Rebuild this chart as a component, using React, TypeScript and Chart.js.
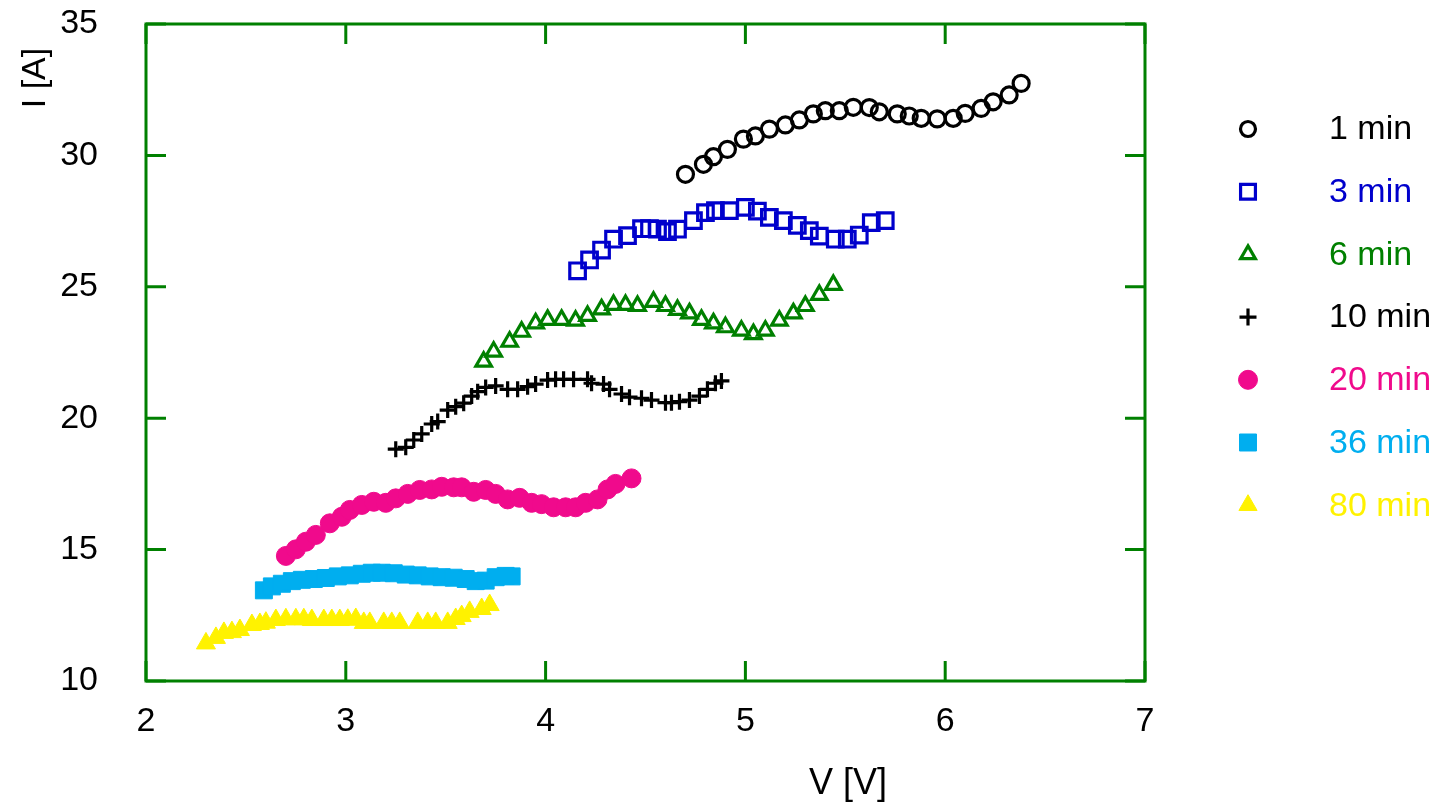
import React, { useEffect, useRef } from 'react';
import { Chart, registerables } from 'chart.js';
import { drawPoint } from 'chart.js/helpers';

Chart.register(...registerables);

const seriesLabels = ['1 min', '3 min', '6 min', '10 min', '20 min', '36 min', '80 min'];

const v1 = [4.70, 4.79, 4.84, 4.91, 4.99, 5.05, 5.12, 5.20, 5.27, 5.34, 5.40, 5.47, 5.54, 5.62, 5.67, 5.76, 5.82, 5.88, 5.96, 6.04, 6.10, 6.18, 6.24, 6.32, 6.38];
const i1 = [29.28, 29.66, 29.95, 30.23, 30.62, 30.74, 31.00, 31.16, 31.35, 31.58, 31.70, 31.70, 31.83, 31.82, 31.66, 31.58, 31.50, 31.41, 31.39, 31.41, 31.60, 31.79, 32.04, 32.30, 32.74];

const v3 = [4.16, 4.22, 4.28, 4.34, 4.41, 4.48, 4.52, 4.56, 4.61, 4.66, 4.74, 4.80, 4.85, 4.92, 5.00, 5.06, 5.12, 5.19, 5.26, 5.32, 5.37, 5.45, 5.51, 5.57, 5.63, 5.70];
const i3 = [25.61, 26.02, 26.40, 26.81, 26.95, 27.21, 27.21, 27.19, 27.10, 27.19, 27.52, 27.82, 27.90, 27.90, 28.02, 27.88, 27.64, 27.52, 27.34, 27.14, 26.93, 26.81, 26.81, 26.97, 27.44, 27.52];

const v6 = [3.69, 3.74, 3.82, 3.88, 3.95, 4.01, 4.08, 4.15, 4.21, 4.28, 4.34, 4.40, 4.46, 4.54, 4.60, 4.66, 4.72, 4.78, 4.84, 4.90, 4.98, 5.04, 5.10, 5.17, 5.24, 5.30, 5.37, 5.44];
const i6 = [22.15, 22.53, 22.91, 23.29, 23.61, 23.74, 23.74, 23.71, 23.89, 24.14, 24.31, 24.31, 24.27, 24.43, 24.27, 24.12, 23.99, 23.74, 23.61, 23.46, 23.33, 23.20, 23.33, 23.71, 23.99, 24.27, 24.69, 25.07];

const v10 = [3.25, 3.30, 3.34, 3.38, 3.43, 3.46, 3.51, 3.55, 3.59, 3.63, 3.66, 3.70, 3.75, 3.81, 3.86, 3.91, 3.95, 4.01, 4.05, 4.09, 4.14, 4.21, 4.23, 4.29, 4.32, 4.38, 4.42, 4.48, 4.53, 4.60, 4.63, 4.67, 4.72, 4.77, 4.81, 4.85, 4.88];
const i10 = [18.82, 18.89, 19.17, 19.40, 19.78, 19.87, 20.31, 20.44, 20.57, 20.84, 21.01, 21.17, 21.23, 21.10, 21.10, 21.20, 21.30, 21.45, 21.48, 21.48, 21.48, 21.48, 21.33, 21.30, 21.10, 20.92, 20.80, 20.76, 20.69, 20.59, 20.59, 20.63, 20.69, 20.84, 21.10, 21.33, 21.42];

const v20 = [2.70, 2.75, 2.80, 2.85, 2.92, 2.98, 3.02, 3.08, 3.14, 3.20, 3.25, 3.31, 3.37, 3.43, 3.48, 3.54, 3.58, 3.64, 3.70, 3.75, 3.81, 3.87, 3.93, 3.98, 4.04, 4.10, 4.15, 4.20, 4.26, 4.31, 4.35, 4.43];
const i20 = [14.76, 15.01, 15.30, 15.56, 16.00, 16.25, 16.51, 16.70, 16.82, 16.78, 16.95, 17.12, 17.27, 17.29, 17.39, 17.37, 17.37, 17.20, 17.27, 17.12, 16.91, 16.97, 16.78, 16.73, 16.61, 16.61, 16.61, 16.78, 16.91, 17.29, 17.50, 17.71];

const v36 = [2.59, 2.63, 2.68, 2.73, 2.78, 2.84, 2.90, 2.96, 3.02, 3.08, 3.13, 3.18, 3.24, 3.30, 3.36, 3.42, 3.48, 3.54, 3.60, 3.65, 3.70, 3.75, 3.80, 3.83];
const i36 = [13.45, 13.60, 13.70, 13.80, 13.85, 13.88, 13.92, 13.98, 14.02, 14.08, 14.12, 14.12, 14.10, 14.05, 14.02, 13.98, 13.95, 13.93, 13.88, 13.80, 13.82, 13.95, 14.00, 13.98];

const v80 = [2.30, 2.35, 2.39, 2.43, 2.47, 2.53, 2.57, 2.60, 2.65, 2.70, 2.75, 2.79, 2.83, 2.89, 2.93, 2.97, 3.01, 3.05, 3.09, 3.12, 3.19, 3.23, 3.27, 3.36, 3.41, 3.45, 3.51, 3.55, 3.58, 3.62, 3.68, 3.72];
const i80 = [11.43, 11.64, 11.83, 11.86, 11.94, 12.13, 12.17, 12.22, 12.32, 12.35, 12.35, 12.35, 12.32, 12.32, 12.32, 12.32, 12.33, 12.36, 12.21, 12.21, 12.21, 12.21, 12.21, 12.21, 12.21, 12.21, 12.21, 12.36, 12.47, 12.63, 12.74, 12.89];

const xTicks = [2, 3, 4, 5, 6, 7];
const yTicks = [10, 15, 20, 25, 30, 35];

const xTitle = 'V [V]';
const yTitle = 'I [A]';

const FONT = '"Liberation Sans", Arial, Helvetica, sans-serif';
const FRAME = '#008000';

const seriesV = [v1, v3, v6, v10, v20, v36, v80];
const seriesI = [i1, i3, i6, i10, i20, i36, i80];

const styles = [
  { color: '#000000', pointStyle: 'circle', radius: 8, fill: false, bw: 3.2, legendRadius: 7.5 },
  { color: '#0000CC', pointStyle: 'rect', radius: 11, fill: false, bw: 3.2, legendRadius: 10.5 },
  { color: '#008000', pointStyle: 'triangle', radius: 9, fill: false, bw: 3.2, legendRadius: 8.5 },
  { color: '#000000', pointStyle: 'cross', radius: 8, fill: false, bw: 3.2, legendRadius: 8.5 },
  { color: '#F00A8C', pointStyle: 'circle', radius: 9.5, fill: true, bw: 1, legendRadius: 9.5 },
  { color: '#00AEEF', pointStyle: 'rect', radius: 12, fill: true, bw: 1, legendRadius: 12 },
  { color: '#FFF200', pointStyle: 'triangle', radius: 11, fill: true, bw: 1, legendRadius: 10.5 },
];

const framePlugin = {
  id: 'frameTicks',
  afterDraw(chart: any) {
    const { ctx, chartArea: a, scales } = chart;
    const xs = scales.x;
    const ys = scales.y;
    const tl = 20;
    ctx.save();
    ctx.strokeStyle = FRAME;
    ctx.lineWidth = 3;
    ctx.lineCap = 'butt';
    ctx.beginPath();
    ctx.rect(a.left, a.top, a.right - a.left, a.bottom - a.top);
    ctx.stroke();
    ctx.beginPath();
    xTicks.forEach((t) => {
      const px = xs.getPixelForValue(t);
      ctx.moveTo(px, a.bottom);
      ctx.lineTo(px, a.bottom - tl);
      ctx.moveTo(px, a.top);
      ctx.lineTo(px, a.top + tl);
    });
    yTicks.forEach((t) => {
      const py = ys.getPixelForValue(t);
      ctx.moveTo(a.left, py);
      ctx.lineTo(a.left + tl, py);
      ctx.moveTo(a.right, py);
      ctx.lineTo(a.right - tl, py);
    });
    ctx.stroke();

    // axis titles
    ctx.fillStyle = '#000000';
    ctx.font = `36px ${FONT}`;
    ctx.textAlign = 'center';
    ctx.textBaseline = 'middle';
    ctx.fillText(xTitle, 848, 784);
    ctx.font = `34px ${FONT}`;
    ctx.save();
    ctx.translate(36, 78);
    ctx.rotate(-Math.PI / 2);
    ctx.fillText(yTitle, 0, 0);
    ctx.restore();

    // legend
    const lx = 1248;
    const tx = 1329;
    const ly0 = 129;
    const dy = 62.7;
    chart.data.datasets.forEach((ds: any, k: number) => {
      const st = styles[k];
      const y = ly0 + k * dy;
      ctx.save();
      ctx.strokeStyle = st.color;
      ctx.fillStyle = st.fill ? st.color : 'rgba(0,0,0,0)';
      ctx.lineWidth = st.bw;
      drawPoint(ctx, { pointStyle: st.pointStyle, radius: st.legendRadius, rotation: 0, borderWidth: st.bw }, lx, y);
      ctx.restore();
      ctx.fillStyle = st.color;
      ctx.font = `34px ${FONT}`;
      ctx.textAlign = 'left';
      ctx.textBaseline = 'middle';
      ctx.fillText(ds.label, tx, y + 1);
    });
    ctx.restore();
  },
};

export default function App() {
  const ref = useRef<HTMLCanvasElement | null>(null);

  useEffect(() => {
    document.body.style.margin = '0';
    const canvas = ref.current;
    if (!canvas) return;
    const datasets = seriesLabels.map((label, k) => {
      const st = styles[k];
      return {
        label,
        data: seriesV[k].map((v, j) => ({ x: v, y: seriesI[k][j] })),
        showLine: false,
        pointStyle: st.pointStyle,
        pointRadius: st.radius,
        pointHoverRadius: st.radius,
        pointBorderWidth: st.bw,
        pointBorderColor: st.color,
        pointBackgroundColor: st.fill ? st.color : 'rgba(0,0,0,0)',
        borderColor: st.color,
        backgroundColor: st.fill ? st.color : 'rgba(0,0,0,0)',
      };
    });
    const chart = new Chart(canvas, {
      type: 'scatter',
      data: { datasets },
      options: {
        responsive: false,
        animation: false,
        devicePixelRatio: 1,
        layout: { padding: { left: 0, top: 24, right: 300, bottom: 0 } },
        plugins: {
          legend: { display: false },
          tooltip: { enabled: false },
          title: { display: false },
        },
        scales: {
          x: {
            type: 'linear',
            min: 2,
            max: 7,
            afterFit(scale: any) {
              scale.height = 124;
              scale.paddingLeft = 0;
              scale.paddingRight = 0;
              scale.paddingTop = 0;
              scale.paddingBottom = 0;
            },
            afterBuildTicks(scale: any) {
              scale.ticks = xTicks.map((v) => ({ value: v }));
            },
            grid: { display: false, drawTicks: false },
            border: { display: false },
            ticks: {
              color: '#000000',
              font: { family: FONT, size: 34 },
              padding: 20,
              maxRotation: 0,
              autoSkip: false,
            },
          },
          y: {
            type: 'linear',
            min: 10,
            max: 35,
            afterFit(scale: any) {
              scale.width = 146;
              scale.paddingLeft = 0;
              scale.paddingRight = 0;
              scale.paddingTop = 0;
              scale.paddingBottom = 0;
            },
            afterBuildTicks(scale: any) {
              scale.ticks = yTicks.map((v) => ({ value: v }));
            },
            grid: { display: false, drawTicks: false },
            border: { display: false },
            ticks: {
              color: '#000000',
              font: { family: FONT, size: 34 },
              padding: 48,
              autoSkip: false,
            },
          },
        },
      } as any,
      plugins: [framePlugin],
    });
    return () => chart.destroy();
  }, []);

  return (
    <div style={{ position: 'fixed', left: 0, top: 0, width: 1445, height: 805, background: '#ffffff' }}>
      <canvas ref={ref} width={1445} height={805} style={{ display: 'block', width: 1445, height: 805 }} />
    </div>
  );
}
